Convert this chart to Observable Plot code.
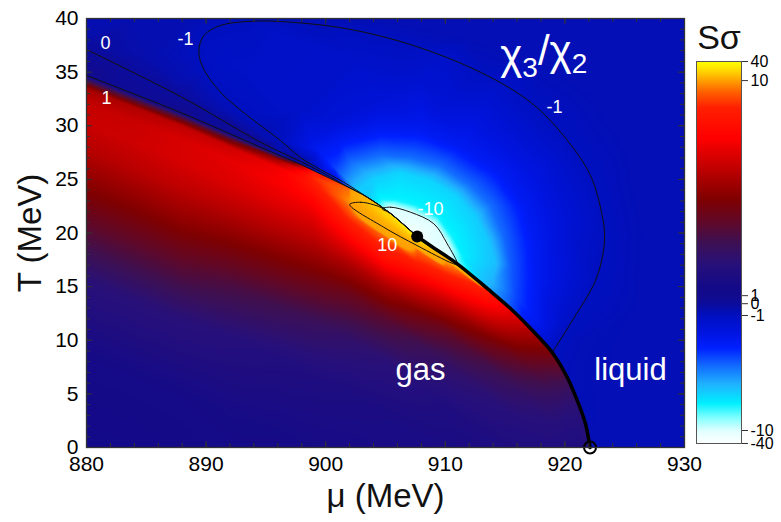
<!DOCTYPE html>
<html><head><meta charset="utf-8">
<script src="https://cdn.jsdelivr.net/npm/d3@7"></script>
<script src="https://cdn.jsdelivr.net/npm/@observablehq/plot@0.6"></script>
<style>
body{margin:0;background:#fff;}
#wrap{display:flex;width:781px;height:522px;overflow:hidden;}
#wrap svg{flex:none;}
</style></head><body><div id="wrap"></div>
<script>
// ================= data =================
const barTicks = [-40, -10, -1, 0, 1, 10, 40];
const xMajor = [880, 890, 900, 910, 920, 930];
const yMajor = [0, 5, 10, 15, 20, 25, 30, 35, 40];

// transition / crossover line (sharp edge), critical point at index 4
const lineMu = [897.89, 900.65, 903.47, 905.42, 907.65, 909.01, 911.0, 913.5, 915.45, 917.29, 918.94, 920.19, 921.03, 921.72, 922.1];
const lineT  = [26.13, 24.86, 23.34, 21.82, 19.67, 18.63, 17.13, 14.83, 12.96, 10.91, 8.86, 6.55, 4.38, 2.21, 0];
const aboveV = [1.0, -1.5, -7.0, -10.5, -30, -15, -9.0, -6.5, -4.5, -2.6, -1.0, -0.8, -0.75, -0.7, -0.7];

// gas side: profiles below the upper boundary (depth in MeV below it)
const gasDepth = [0, 0.4, 1.2, 2.5, 4.5, 7, 10, 14, 19, 26, 36];
const gasMu  = [880, 884, 888, 892, 896, 899, 902, 905, 907.65, 910, 913.5, 915.45, 917.29, 918.94, 920.19, 921.03, 922.1];
const gasTop = [34.69, 32.93, 31.18, 29.24, 27.30, 25.6, 24.13, 22.15, 19.67, 17.89, 14.83, 12.96, 10.91, 8.86, 6.55, 4.38, 0];
const gasV = [
  [1, 3.0, 5.8, 6.4, 6.5, 6.1, 5.3, 4.0, 2.4, 1.45, 1.2],
  [1, 3.2, 6.0, 6.5, 6.6, 6.2, 5.3, 4.0, 2.4, 1.45, 1.2],
  [1, 3.4, 6.3, 6.8, 6.8, 6.3, 5.4, 4.0, 2.4, 1.45, 1.25],
  [1, 3.8, 6.6, 7.1, 6.9, 6.2, 5.1, 3.6, 2.2, 1.5, 1.25],
  [1.5, 5.5, 7.4, 7.5, 7.0, 6.1, 4.9, 3.3, 2.0, 1.45, 1.3],
  [8.6, 9.0, 8.6, 7.8, 6.9, 5.9, 4.6, 3.0, 1.9, 1.45, 1.3],
  [9.6, 9.7, 9.9, 9.2, 7.8, 6.0, 4.3, 2.7, 1.8, 1.45, 1.3],
  [22, 25, 15, 9.6, 8.3, 6.0, 4.0, 2.4, 1.7, 1.45, 1.35],
  [40, 22, 9.6, 8.8, 7.0, 4.9, 3.2, 2.1, 1.6, 1.45, 1.35],
  [22, 10.1, 9.3, 8.2, 6.2, 4.2, 2.8, 1.9, 1.55, 1.45, 1.4],
  [8.8, 8.5, 7.9, 6.8, 5.0, 3.4, 2.4, 1.8, 1.55, 1.5, 1.45],
  [7.4, 7.1, 6.6, 5.7, 4.2, 3.0, 2.2, 1.75, 1.55, 1.5, 1.5],
  [6.0, 5.8, 5.3, 4.5, 3.4, 2.5, 2.0, 1.7, 1.55, 1.5, 1.5],
  [4.8, 4.6, 4.1, 3.4, 2.7, 2.2, 1.8, 1.6, 1.5, 1.5, 1.5],
  [3.4, 3.2, 2.9, 2.5, 2.1, 1.8, 1.65, 1.55, 1.5, 1.5, 1.5],
  [2.6, 2.5, 2.3, 2.1, 1.85, 1.7, 1.6, 1.55, 1.5, 1.5, 1.5],
  [1.9, 1.9, 1.9, 1.9, 1.9, 1.9, 1.9, 1.9, 1.9, 1.9, 1.9]
];

// other side: scattered samples (cyan blob rings, loop interior, far field)
const upMu = [
  904.6, 905.8, 907.5, 909.4, 910.6, 911.5,
  902.66, 904.16, 906.25, 908.76, 910.85, 912.53, 913.61, 914.20, 913.95,
  900.82, 902.07, 904.58, 907.09, 909.6, 912.11, 913.78, 914.87, 915.45, 915.87,
  899.40, 901.24, 904.58, 907.93, 911.27, 914.62, 916.71, 917.54, 917.79, 918.1,
  900.40, 904.58, 909.6, 914.62, 918.38, 920.05, 920.30, 919.80,
  907.93, 914, 920, 897.9, 893.7, 902.07, 910, 921.6, 896, 890.8,
  880, 880, 884, 885, 888, 887.5, 891, 894.5,
  899, 906, 912, 918, 922, 925, 926.5, 926, 924, 930, 930, 930, 930, 930, 925, 923, 921.5, 922.5,
  880, 888, 894.5, 880, 895, 880, 900, 915
];
const upT = [
  23.1, 23.1, 22.6, 21.5, 19.6, 17.8,
  23.96, 25.08, 25.64, 24.90, 23.50, 21.63, 19.30, 17.25, 15.38,
  26.01, 26.76, 27.23, 27.04, 26.29, 24.43, 22.56, 19.77, 16.97, 14.08,
  27.69, 28.81, 29.74, 29.56, 28.16, 25.83, 22.56, 18.83, 15.10, 11.2,
  30.49, 32.35, 31.89, 30.02, 26.29, 21.63, 16.50, 11.84,
  34.5, 33, 26, 31.4, 35.15, 36.08, 36.5, 18, 38.5, 36.5,
  40, 38.6, 40, 36.5, 39.5, 34.2, 31.6, 29.3,
  40, 39.5, 38, 36, 33, 28, 20, 13, 8, 40, 30, 20, 10, 0, 0, 2, 9.5, 6,
  32.5, 29.0, 25.8, 20, 12, 0, 0, 0
];
const upV = [
  -8.0, -8.0, -8.0, -8.0, -8.0, -7.8,
  -7.0, -7.1, -7.2, -7.2, -7.2, -7.0, -6.9, -6.7, -6.4,
  -4.2, -4.8, -5.0, -5.0, -5.0, -5.0, -5.0, -4.9, -4.7, -4.3,
  -3.0, -3.0, -3.0, -3.0, -3.0, -3.0, -3.0, -3.0, -2.9, -2.6,
  -1.9, -1.9, -1.9, -1.9, -1.9, -1.9, -1.9, -1.5,
  -1.6, -1.5, -1.45, -1.4, -1.3, -1.4, -1.35, -1.3, -1.3, -1.2,
  -0.55, -0.5, -0.6, -0.5, -0.6, -0.5, -0.5, -0.6,
  -0.7, -0.7, -0.7, -0.7, -0.7, -0.7, -0.7, -0.7, -0.7, -0.7, -0.7, -0.7, -0.7, -0.7, -0.7, -0.7, -0.75, -0.7,
  1, 1, 1, 1, 1, 1, 1, 1
];

// contour lines
const c0Mu = [880, 887.86, 894.55, 897.89, 899.57, 901.49, 903.47, 905.42, 907.65];
const c0T  = [37.10, 32.73, 28.47, 26.67, 25.73, 24.52, 23.34, 21.82, 19.67];
const c1Mu = [880, 887.86, 894.55, 897.89, 899.57, 901.49, 903.47, 905.42, 907.65];
const c1T  = [34.69, 31.24, 28.00, 26.39, 25.50, 24.48, 23.34, 21.82, 19.67];
const cm1Mu = [918.94, 920.47, 922.56, 923.23, 923.31, 923.12, 922.14, 919.88, 917.12, 912.94, 907.34, 901.80, 896.22, 893.44, 891.20, 889.81, 889.39, 889.78, 891.20, 893.44, 896.22, 897.89, 899.57, 901.49, 903.47, 905.42, 907.65];
const cm1T  = [8.86, 11.56, 15.57, 18.37, 20.05, 21.63, 25.36, 29.09, 32.20, 34.99, 37.48, 39.04, 39.72, 39.72, 39.35, 38.42, 36.86, 35.34, 33.13, 30.96, 28.62, 27.04, 25.92, 24.75, 23.34, 21.82, 19.67];
const c10Mu = [902.01, 902.91, 904.02, 904.72, 905.42, 907.65, 909.01, 910.99, 910.57, 907.64, 904.85];
const c10T  = [22.66, 22.87, 22.63, 22.33, 21.82, 19.67, 18.63, 17.06, 17.18, 18.83, 20.54];
const cm10Mu = [904.72, 905.42, 907.09, 909.04, 910.16, 911.0, 910.16, 909.01, 907.65, 906.25, 905.42];
const cm10T  = [22.26, 22.41, 21.94, 20.86, 18.99, 17.13, 17.80, 18.68, 19.72, 21.05, 21.84];

// labels
const labelText = ["0", "-1", "1", "-1", "-10", "10"];
const labelMu = [881.59, 888.28, 881.67, 919.13, 908.76, 905.14];
const labelT  = [37.67, 38.04, 32.54, 31.70, 22.19, 18.83];
const phaseText = ["gas", "liquid"];
const phaseMu = [907.93, 925.48];
const phaseT = [7.18, 7.18];

// ================= colour scale (positions along the bar) =================
const barStopT = [0, 0.034, 0.335, 0.366, 0.387, 0.95, 1];
const colorStops = [
  [0, "#ffffff"], [0.034, "#e0ffff"], [0.068, "#80ffff"], [0.105, "#00f0ff"], [0.157, "#20b0ff"],
  [0.21, "#1060ff"], [0.25, "#0020ff"], [0.29, "#0014e0"], [0.335, "#0010c0"], [0.366, "#0c0c9c"],
  [0.41, "#140a88"], [0.47, "#28107a"], [0.53, "#401050"], [0.58, "#600828"], [0.64, "#800000"],
  [0.74, "#d00000"], [0.80, "#ff0000"], [0.88, "#ff2000"], [0.92, "#ff6000"], [0.95, "#ffa000"],
  [0.98, "#ffe000"], [1, "#ffff00"]
];
const tToV = d3.scaleLinear().domain(barStopT).range(barTicks);
const colorOpts = {type: "linear", domain: colorStops.map(s => tToV(s[0])), range: colorStops.map(s => s[1]), interpolate: "rgb", clamp: true};

// ================= gas side: read profiles, blended between columns =================
const topAt = d3.scaleLinear().domain(gasMu).range(gasTop).clamp(true);
const profiles = gasMu.map((m, i) => d3.scaleLinear().domain(gasDepth).range(gasV[i]).clamp(true));
function gasField(mu, T) {
  let i = d3.bisectRight(gasMu, mu) - 1;
  i = Math.max(0, Math.min(gasMu.length - 2, i));
  const t = Math.max(0, Math.min(1, (mu - gasMu[i]) / (gasMu[i + 1] - gasMu[i])));
  const depth = topAt(mu) - T;
  return (1 - t) * profiles[i](depth) + t * profiles[i + 1](depth);
}

// ================= other side: scattered samples =================
const upSamples = upMu.map((m, i) => ({mu: m, T: upT[i], v: upV[i]}));
c0Mu.slice(0, 4).forEach((m, i) => upSamples.push({mu: m, T: c0T[i], v: 0}));
c1Mu.slice(0, 3).forEach((m, i) => upSamples.push({mu: m, T: c1T[i], v: 1}));
cm1Mu.slice(1, 21).forEach((m, i) => upSamples.push({mu: m, T: cm1T[i + 1], v: -1}));
[1, 2, 3, 4].forEach(i => upSamples.push({mu: cm10Mu[i], T: cm10T[i], v: -10}));
lineMu.forEach((m, i) => {
  const a = Math.max(0, i - 1), b = Math.min(lineMu.length - 1, i + 1);
  const dm = lineMu[b] - lineMu[a], dt = lineT[b] - lineT[a];
  const len = Math.hypot(dm, dt);
  const nx = dt / len, ny = -dm / len; // towards the gas side
  upSamples.push({mu: m, T: lineT[i], v: aboveV[i]});
  upSamples.push({mu: m + 1.5 * nx, T: lineT[i] + 1.5 * ny, v: aboveV[i]});
});

const pts = (M, T) => M.map((m, i) => ({mu: m, T: T[i]}));
const transition = pts(lineMu.slice(4), lineT.slice(4));
const labels = labelText.map((s, i) => ({s, mu: labelMu[i], T: labelT[i]}));
const phases = phaseText.map((s, i) => ({s, mu: phaseMu[i], T: phaseT[i]}));

const FW = 598, FH = 429;
const font = "'Liberation Sans', Arial, sans-serif";

const main = Plot.plot({
  width: 690, height: 522,
  marginLeft: 86, marginRight: 6, marginTop: 18, marginBottom: 75,
  x: {domain: [880, 930]},
  y: {domain: [0, 40]},
  color: colorOpts,
  style: {fontFamily: font, background: "transparent", overflow: "visible"},
  marks: [
    Plot.raster(upSamples, {x: "mu", y: "T", fill: "v", interpolate: "barycentric", x1: 880, x2: 930, y1: 0, y2: 40}),
    Plot.raster({fill: gasField, x1: 880, x2: 930, y1: 0, y2: 40}),
    Plot.line(pts(c0Mu, c0T), {x: "mu", y: "T", stroke: "#111", strokeWidth: 1, curve: "catmull-rom"}),
    Plot.line(pts(c1Mu, c1T), {x: "mu", y: "T", stroke: "#111", strokeWidth: 1, curve: "catmull-rom"}),
    Plot.line(pts(cm1Mu, cm1T), {x: "mu", y: "T", stroke: "#111", strokeWidth: 1, curve: "catmull-rom"}),
    Plot.line(pts(c10Mu, c10T), {x: "mu", y: "T", stroke: "#111", strokeWidth: 1, curve: "catmull-rom-closed"}),
    Plot.line(pts(cm10Mu, cm10T), {x: "mu", y: "T", stroke: "#111", strokeWidth: 1, curve: "catmull-rom-closed"}),
    Plot.line(transition, {x: "mu", y: "T", stroke: "#000", strokeWidth: 3.5, curve: "catmull-rom"}),
    Plot.dot([transition[0]], {x: "mu", y: "T", r: 6, fill: "#000"}),
    Plot.dot([transition[transition.length - 1]], {x: "mu", y: "T", r: 6, stroke: "#000", strokeWidth: 2, fill: "none"}),
    Plot.text(labels, {x: "mu", y: "T", text: "s", fill: "white", fontSize: 18}),
    Plot.text(phases, {x: "mu", y: "T", text: "s", fill: "white", fontSize: 31}),
    Plot.text(["χ3/χ2"], {x: 914.6, y: 36.55, text: d => d, fill: "white", fontSize: 42, textAnchor: "start"}),
    Plot.frame({stroke: "#333", strokeWidth: 1.3}),
    Plot.tickX(xMajor, {x: d => d, insetTop: FH - 6, stroke: "#333"}),
    Plot.tickX(xMajor, {x: d => d, insetBottom: FH - 6, stroke: "#333"}),
    Plot.tickX(d3.range(882, 930, 2), {x: d => d, insetTop: FH - 4, stroke: "#333"}),
    Plot.tickX(d3.range(882, 930, 2), {x: d => d, insetBottom: FH - 4, stroke: "#333"}),
    Plot.tickY(yMajor, {y: d => d, insetRight: FW - 6, stroke: "#333"}),
    Plot.tickY(yMajor, {y: d => d, insetLeft: FW - 6, stroke: "#333"}),
    Plot.tickY(d3.range(1, 40, 1), {y: d => d, insetRight: FW - 4, stroke: "#333"}),
    Plot.tickY(d3.range(1, 40, 1), {y: d => d, insetLeft: FW - 4, stroke: "#333"}),
    Plot.axisX({ticks: xMajor, tickSize: 0, tickPadding: 9, fontSize: 21, tickFormat: d => String(d), label: null}),
    Plot.axisY({ticks: yMajor, tickSize: 0, tickPadding: 8, fontSize: 21, tickFormat: d => String(d), label: null}),
    Plot.text(["μ (MeV)"], {text: d => d, frameAnchor: "bottom", lineAnchor: "middle", textAnchor: "middle", dy: 49, fontSize: 33, fill: "#111"}),
    Plot.text(["T (MeV)"], {text: d => d, frameAnchor: "left", lineAnchor: "middle", textAnchor: "middle", dx: -56, rotate: -90, fontSize: 33, fill: "#111"})
  ]
});

// clip the gas-side raster to the region under the boundary
{
  const sx = main.scale("x"), sy = main.scale("y");
  const X = d3.scaleLinear().domain(sx.domain).range(sx.range);
  const Y = d3.scaleLinear().domain(sy.domain).range(sy.range);
  const boundary = pts(c1Mu.slice(0, 6), c1T.slice(0, 6)).concat(pts(lineMu.slice(2), lineT.slice(2)));
  const P = boundary.map(p => [X(p.mu), Y(p.T)]);
  const last = P[P.length - 1];
  const d = d3.line().curve(d3.curveCatmullRom)(P) +
    `L${last[0]},${Y(0) + 10}L${X(880) - 10},${Y(0) + 10}L${X(880) - 10},${P[0][1]}Z`;
  const svg = d3.select(main);
  svg.insert("defs", ":first-child").append("clipPath").attr("id", "gasclip").append("path").attr("d", d);
  const rasters = svg.selectAll('g[aria-label="raster"]').nodes();
  d3.select(rasters[1]).attr("clip-path", "url(#gasclip)");
}

// subscripts in χ3/χ2
d3.select(main).selectAll("text").each(function() {
  if (this.textContent === "χ3/χ2") {
    const t = d3.select(this);
    t.text(null);
    t.append("tspan").text("χ");
    t.append("tspan").attr("dy", "0.3em").attr("font-size", 28).text("3");
    t.append("tspan").attr("dy", "-0.3em").text("/χ");
    t.append("tspan").attr("dy", "0.3em").attr("font-size", 28).text("2");
  }
});

const bar = Plot.plot({
  width: 91, height: 522,
  marginLeft: 6, marginRight: 40, marginTop: 61, marginBottom: 79,
  x: {domain: [0, 1], axis: null},
  y: {type: "linear", domain: barTicks, range: barStopT.map(t => 443 - 382 * t), axis: null},
  color: colorOpts,
  style: {fontFamily: font, background: "transparent", overflow: "visible"},
  marks: [
    Plot.raster({fill: (x, y) => y, x1: 0, x2: 1, y1: -40, y2: 40}),
    Plot.frame({stroke: "#555"}),
    Plot.axisY({anchor: "right", ticks: barTicks, tickSize: 6, tickPadding: 3, fontSize: 16, tickFormat: d => String(d), label: null, stroke: "#333"}),
    Plot.text(["Sσ"], {text: d => d, frameAnchor: "top", lineAnchor: "top", dy: -37, fontSize: 34, fill: "#111"})
  ]
});

const wrap = document.getElementById("wrap");
wrap.appendChild(main);
wrap.appendChild(bar);
</script></body></html>
